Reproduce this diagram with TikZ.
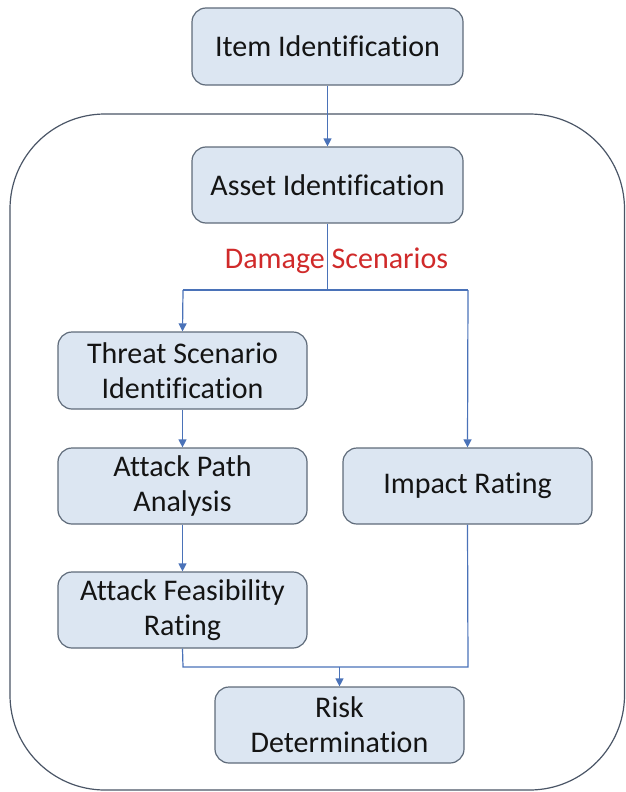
\documentclass[tikz,border=0pt]{standalone}
\usepackage{fontspec}
\setmainfont[Ligatures={NoCommon}]{Carlito}
\usetikzlibrary{arrows.meta}
\definecolor{boxfill}{HTML}{DCE6F2}
\definecolor{boxline}{HTML}{5F6B7A}
\definecolor{frameline}{HTML}{4A5566}
\definecolor{connblue}{HTML}{4A72B8}
\definecolor{dmgred}{HTML}{D02A2A}
\definecolor{txt}{HTML}{141414}
\tikzset{
  procbox/.style={draw=boxline, line width=1.2pt, fill=boxfill, rounded corners=14pt,
    align=center, text=txt, inner sep=0pt, font=\fontsize{30}{35}\selectfont},
  conn/.style={draw=connblue, line width=1.2pt},
  arr/.style={conn, -{Triangle[length=8pt,width=8pt]}},
  dmglabel/.style={text=dmgred, font=\fontsize{30}{35}\selectfont, inner sep=0pt}
}
\begin{document}
\begin{tikzpicture}[x=1pt,y=-1pt]
\useasboundingbox (0,0) rectangle (626,792);
% outer frame
\draw[frameline, line width=1.2pt, rounded corners=95pt] (10,114) rectangle (624.5,790);
% boxes
\node[procbox, minimum width=271pt, minimum height=77pt] (item) at (327.5,46.5) {Item Identification};
\node[procbox, minimum width=271pt, minimum height=76pt] (asset) at (327.5,185) {Asset Identification};
\node[procbox, minimum width=249pt, minimum height=77pt] (threat) at (182.5,370.5) {Threat Scenario\\Identification};
\node[procbox, minimum width=249pt, minimum height=76pt] (path) at (182.5,486) {Attack Path\\Analysis};
\node[procbox, minimum width=249pt, minimum height=76pt] (feas) at (182.5,610) {Attack Feasibility\\Rating};
\node[procbox, minimum width=249pt, minimum height=76pt] (impact) at (467.5,486) {Impact Rating};
\node[procbox, minimum width=249pt, minimum height=76pt] (risk) at (339.5,725) {Risk\\Determination};
% junction points
\coordinate (sL) at (183,290);
\coordinate (sR) at (468,290);
\coordinate (mL) at (183,667);
\coordinate (mR) at (468,667);
% connectors
\draw[arr] (item.south) -- (asset.north);
\draw[conn] (asset.south) -- (asset.south |- sL);
\draw[conn] (sL) -- (sR);
\draw[arr] (sL) -- (threat.north);
\draw[arr] (sR) -- (impact.north);
\draw[arr] (threat.south) -- (path.north);
\draw[arr] (path.south) -- (feas.north);
\draw[conn] (feas.south) -- (mL) -- (mR) -- (impact.south);
\draw[arr] (risk.north |- mL) -- (risk.north);
% label
\node[dmglabel] (dmg) at (336.5,261) {Damage Scenarios};
\end{tikzpicture}
\end{document}
